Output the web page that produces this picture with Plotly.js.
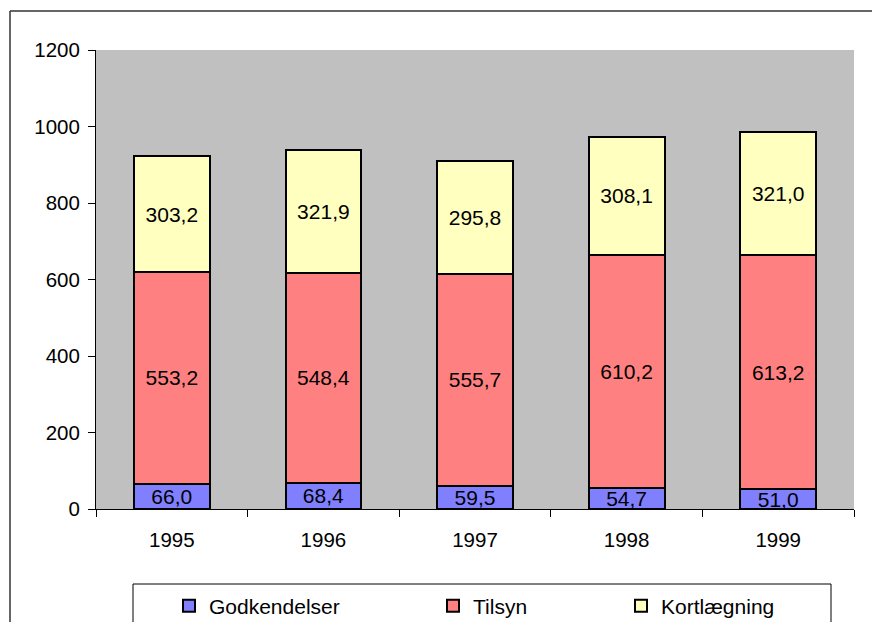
<!DOCTYPE html>
<html>
<head>
<meta charset="utf-8">
<script src="https://cdn.plot.ly/plotly-3.0.1.min.js"></script>
<style>html,body{margin:0;padding:0;background:#fff;}#chart{width:872px;height:622px;}</style>
</head>
<body>
<div id="chart"></div>
<script>
const years = ['1995', '1996', '1997', '1998', '1999'];
const godkendelser = [66.0, 68.4, 59.5, 54.7, 51.0];
const tilsyn = [553.2, 548.4, 555.7, 610.2, 613.2];
const kortlaegning = [303.2, 321.9, 295.8, 308.1, 321.0];
const seriesNames = ['Godkendelser', 'Tilsyn', 'Kortlægning'];
const seriesColors = ['#8080FF', '#FF8080', '#FFFFC0'];

const FONT = 'Liberation Sans, Arial, sans-serif';
const fmt = v => v.toFixed(1).replace('.', ',');

function bar(vals, i, legendId) {
  return {
    type: 'bar', x: years, y: vals, name: seriesNames[i],
    marker: {color: seriesColors[i], line: {color: '#000', width: 2}},
    text: vals.map(fmt), textposition: 'inside', insidetextanchor: 'middle',
    constraintext: 'none', textangle: 0,
    textfont: {family: FONT, size: 21, color: '#000'},
    legend: legendId, hoverinfo: 'skip'
  };
}

const data = [
  bar(godkendelser, 0, 'legend'),
  bar(tilsyn, 1, 'legend2'),
  bar(kortlaegning, 2, 'legend3')
];

const L = 96, R = 854, T = 50, B = 509, W = 872, H = 622;
const px = x => (x - L) / (R - L);
const py = y => (B - y) / (B - T);

function leg(xpix) {
  return {x: px(xpix), xanchor: 'left', y: py(606), yanchor: 'middle',
    bgcolor: 'rgba(0,0,0,0)', borderwidth: 0,
    font: {family: FONT, size: 21, color: '#000'}, itemwidth: 30};
}

const layout = {
  width: W, height: H,
  margin: {l: L, r: W - R, t: T, b: H - B, autoexpand: false},
  paper_bgcolor: '#fff', plot_bgcolor: '#C0C0C0',
  barmode: 'stack', bargap: 0.5,
  font: {family: FONT, size: 20, color: '#000'},
  showlegend: true,
  legend: leg(169), legend2: leg(433), legend3: leg(621),
  xaxis: {
    type: 'category', showline: true, linecolor: '#000', linewidth: 1,
    ticks: 'outside', ticklen: 7, tickcolor: '#000', tickson: 'boundaries',
    showgrid: false, zeroline: false, ticklabelstandoff: 12,
    tickfont: {family: FONT, size: 20.5, color: '#000'}
  },
  yaxis: {
    range: [0, 1200], dtick: 200, tick0: 0,
    showline: true, linecolor: '#000', linewidth: 1,
    ticks: 'outside', ticklen: 7, tickcolor: '#000',
    showgrid: false, zeroline: false, ticklabelstandoff: 4,
    tickfont: {family: FONT, size: 20.5, color: '#000'}
  },
  shapes: [
    {type: 'line', xref: 'paper', yref: 'paper', x0: px(10), x1: px(10), y0: py(640), y1: py(11),
      line: {color: '#333', width: 1.5}},
    {type: 'line', xref: 'paper', yref: 'paper', x0: px(10), x1: px(880), y0: py(11), y1: py(11),
      line: {color: '#333', width: 1.5}},
    {type: 'rect', xref: 'paper', yref: 'paper', x0: px(133), x1: px(831), y0: py(584), y1: py(650),
      line: {color: '#000', width: 1}, fillcolor: 'rgba(0,0,0,0)'}
  ]
};

Plotly.newPlot('chart', data, layout, {displayModeBar: false, staticPlot: true});
</script>
</body>
</html>
